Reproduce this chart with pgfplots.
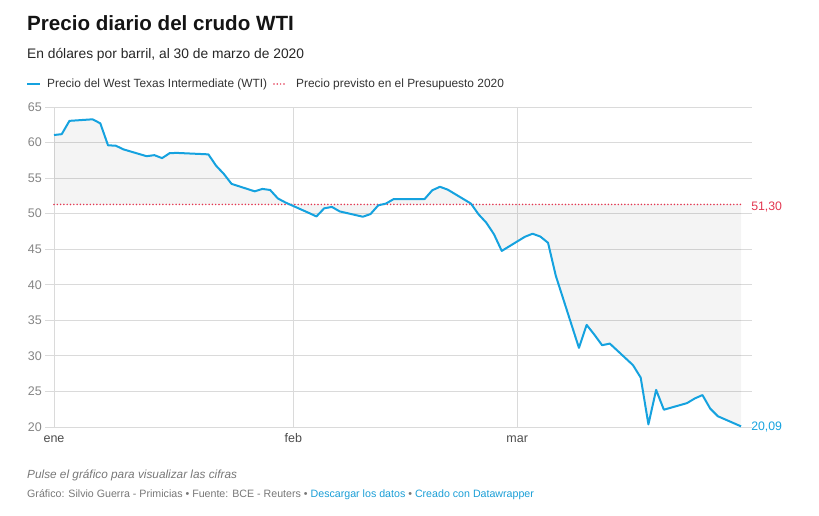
\documentclass[border=0pt]{standalone}
\usepackage{fontspec}
\setmainfont{Liberation Sans}
\usepackage{pgfplots}
\usepackage{pgfplotstable}
\pgfplotsset{compat=1.18}
\definecolor{wtiblue}{HTML}{15A2DF}
\definecolor{refred}{HTML}{E23650}
\definecolor{gridgray}{HTML}{DADADA}
\definecolor{tickgray}{HTML}{858585}
\definecolor{footgray}{HTML}{777777}
\definecolor{linkblue}{HTML}{1A9ED6}
% day 0 = 1 Jan 2020
\pgfplotstableread{
day price
0 61.06
1 61.18
2 63.05
5 63.27
6 62.70
7 59.61
8 59.56
9 59.04
12 58.08
13 58.23
14 57.81
15 58.52
16 58.54
20 58.34
21 56.74
22 55.59
23 54.19
26 53.14
27 53.48
28 53.33
29 52.14
30 51.56
33 50.11
34 49.61
35 50.75
36 50.95
37 50.32
40 49.57
41 49.94
42 51.17
43 51.42
44 52.05
48 52.05
49 53.29
50 53.78
51 53.38
54 51.43
55 49.90
56 48.73
57 47.09
58 44.76
61 46.75
62 47.18
63 46.78
64 45.90
65 41.28
68 31.13
69 34.36
70 32.98
71 31.50
72 31.73
75 28.70
76 26.95
77 20.37
78 25.22
79 22.43
82 23.36
83 24.01
84 24.49
85 22.60
86 21.51
89 20.09
}\wtidata
\pgfplotstableread{
day price
0 51.30
89 51.30
}\refdata
\begin{document}
\begin{tikzpicture}[x=1pt,y=1pt]
\path[use as bounding box] (0,0) rectangle (819,515);
\node[anchor=base west, inner sep=0, font=\fontsize{20.6}{20.6}\selectfont\bfseries, text=black!92] at (27,484) {Precio diario del crudo WTI};
\node[anchor=base west, inner sep=0, font=\fontsize{13.8}{13.8}\selectfont, text=black!85] at (27,456) {En dólares por barril, al 30 de marzo de 2020};
% legend
\draw[wtiblue, line width=2pt] (27,431) -- (40,431);
\node[anchor=base west, inner sep=0, font=\fontsize{11.9}{11.9}\selectfont, text=black!80] at (47,427) {Precio del West Texas Intermediate (WTI)};
\draw[refred, line width=1.7pt, line cap=round, dash pattern=on 0pt off 3.3pt] (274,431) -- (285,431);
\node[anchor=base west, inner sep=0, font=\fontsize{11.9}{11.9}\selectfont, text=black!80] at (296,427) {Precio previsto en el Presupuesto 2020};
% footer
\node[anchor=base west, inner sep=0, font=\fontsize{11.8}{11.8}\selectfont\itshape, text=footgray] at (27,37) {Pulse el gráfico para visualizar las cifras};
\node[anchor=base west, inner sep=0, font=\fontsize{10.65}{10.65}\selectfont, text=footgray] at (27,18) {Gráfico: Silvio Guerra - Primicias • Fuente: BCE - Reuters • \textcolor{linkblue}{Descargar los datos} • \textcolor{linkblue}{Creado con Datawrapper}};
\begin{axis}[
  at={(45pt,88pt)}, anchor=south west,
  scale only axis, width=707pt, height=320pt,
  xmin=-1.166, xmax=90.42, ymin=20, ymax=65,
  axis line style={draw=none},
  major tick length=0pt,
  xtick={0,31,60}, xticklabels={ene,feb,mar},
  ytick={20,25,30,35,40,45,50,55,60,65},
  grid=major,
  grid style={gridgray, line width=0.9pt},
  /pgf/number format/assume math mode=true,
  tick label style={font=\fontsize{12.5}{12.5}\selectfont, text=tickgray},
  yticklabel style={anchor=east, inner sep=0pt, xshift=-3pt},
  xticklabel style={anchor=base, inner sep=0pt, yshift=-15pt, text=black!70},
  clip=false,
]
\addplot[fill=black, fill opacity=0.045, draw=none] table[x=day,y=price] {\wtidata} -- (axis cs:89,51.3) -- (axis cs:0,51.3) -- cycle;
\addplot[refred, line width=1.7pt, line cap=round, dash pattern=on 0pt off 3.3pt] table[x=day,y=price] {\refdata};
\addplot[wtiblue, line width=2pt, line join=round] table[x=day,y=price] {\wtidata};
\node[anchor=west, inner sep=0, font=\fontsize{12.3}{12.3}\selectfont, text=refred] at (axis cs:90.3,51.0) {51,30};
\node[anchor=west, inner sep=0, font=\fontsize{12.3}{12.3}\selectfont, text=wtiblue] at (axis cs:90.3,20.0) {20,09};
\end{axis}
\end{tikzpicture}
\end{document}
